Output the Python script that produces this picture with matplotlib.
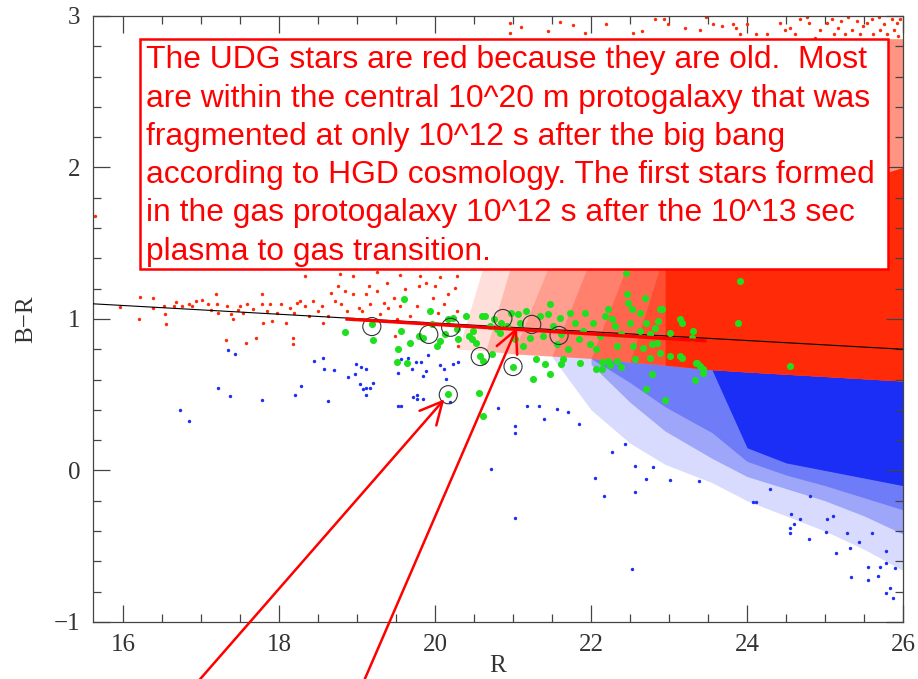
import matplotlib.pyplot as plt
import numpy as np
from matplotlib.patches import Rectangle

# ---- sparse stars (R, B-R) ----
red_R = [15.96, 16.20, 16.22, 16.39, 16.39, 16.52, 16.54, 16.55, 16.65, 16.68, 16.75, 16.84, 16.88, 16.94,
         17.01, 17.09, 17.13, 17.19, 17.20, 17.22, 17.32, 17.33, 17.39, 17.41, 17.48, 17.50, 17.54, 17.58,
         17.59, 17.67, 17.71, 17.78, 17.78, 17.80, 17.84, 17.89, 17.91, 17.97, 18.03, 18.09, 18.14, 18.18,
         18.18, 18.19, 18.23, 18.27, 18.33, 18.39, 18.44, 18.50, 18.55, 18.57, 18.63, 18.67, 18.72, 18.75,
         18.80, 18.85, 18.87, 18.95, 18.95, 19.02, 19.06, 19.12, 19.15, 19.17, 19.25, 19.29, 19.34, 19.38,
         19.40, 19.47, 19.49, 19.51, 19.55, 19.62, 19.68, 19.77, 19.79, 19.85, 19.89, 19.98, 20.00, 20.04,
         20.11, 20.17, 20.26, 20.28, 20.30, 18.33, 18.95, 19.81, 20.28, 18.78, 19.25, 19.55, 20.07, 15.64,
         20.96, 20.96, 21.10, 21.45, 21.60, 21.77, 21.92, 22.54,
         22.19, 22.65, 22.82, 22.93, 22.99, 23.21, 23.40, 23.48, 23.57, 23.68, 23.82, 23.86, 23.91, 24.00,
         24.12, 24.25, 24.42, 24.49, 24.55, 24.62, 24.68, 24.77, 24.79, 24.87, 24.94, 25.02, 25.09, 25.11,
         25.17, 25.21, 25.26, 25.30, 25.34, 25.41, 25.45, 25.49, 25.54, 25.60, 25.62, 25.69, 25.71, 25.75,
         25.79, 25.86, 25.88, 25.92, 25.94, 25.96]
red_BR = [1.078, 0.997, 1.146, 1.140, 1.074, 1.085, 1.030, 0.964, 1.085, 1.111, 1.085, 1.102, 1.085, 1.118,
          1.124, 1.096, 1.058, 1.168, 1.102, 1.041, 0.860, 1.085, 1.030, 0.997, 1.058, 1.085, 1.041, 0.843,
          1.096, 1.063, 0.876, 1.168, 1.102, 0.975, 1.052, 1.102, 0.986, 1.041, 1.096, 0.975, 1.074, 0.876,
          0.832, 1.041, 1.107, 1.118, 1.085, 1.019, 1.118, 1.052, 1.085, 0.975, 1.019, 1.173, 1.118, 1.217,
          1.096, 1.184, 1.052, 1.162, 0.997, 1.074, 1.052, 1.162, 1.217, 1.096, 1.184, 1.030, 1.107, 1.239,
          1.074, 1.140, 0.887, 0.997, 1.085, 1.195, 1.019, 1.085, 1.217, 0.975, 1.239, 1.140, 1.217, 1.041,
          1.096, 1.162, 1.206, 1.052, 0.821, 1.283, 1.283, 1.283, 1.283, 1.300, 1.310, 1.290, 1.280, 1.680,
          2.955, 2.890, 2.930, 2.900, 2.960, 2.940, 2.890, 2.890,
          2.944, 2.900, 2.977, 2.980, 2.944, 2.922, 2.910, 2.990, 2.944, 2.937, 2.944, 2.922, 2.884, 2.944,
          2.878, 2.878, 2.955, 2.910, 2.922, 2.878, 2.977, 2.990, 2.955, 2.856, 2.910, 2.955, 2.980, 2.878,
          2.922, 2.966, 2.878, 2.990, 2.910, 2.966, 2.878, 2.933, 2.955, 2.977, 2.878, 2.990, 2.910, 2.944,
          2.878, 2.977, 2.910, 2.955, 2.867, 2.977]

blue_R = [17.34, 17.44, 17.22, 17.37, 16.73, 16.85, 17.78, 18.20, 18.28, 18.45, 18.56, 18.58, 18.70, 18.63,
          18.88, 18.97, 18.99, 19.05, 19.11, 19.04, 19.08, 19.12, 19.17, 19.12, 19.20, 19.52, 19.53, 19.57,
          19.57, 19.65, 19.70, 19.72, 19.77, 19.77, 19.85, 19.76, 19.82, 19.89, 19.85, 19.91, 20.06, 20.11,
          20.14, 20.19, 20.23, 20.30,
          20.72, 21.03, 21.03, 21.02, 20.81, 21.18, 21.33, 21.40, 21.56, 21.70, 21.84, 22.05, 22.17, 22.53,
          22.56, 22.70, 22.80, 23.01, 23.38, 22.27, 22.44, 22.57, 24.08, 24.12, 24.57, 24.55, 24.55, 24.60,
          24.79, 25.01, 25.14, 25.32, 25.33, 25.43, 25.55, 25.55, 25.68, 25.70, 25.78, 25.78, 25.83, 25.87,
          25.90, 25.78, 25.28, 25.60, 25.02, 25.10, 24.68, 24.30, 24.81]
blue_BR = [0.794, 0.766, 0.541, 0.490, 0.398, 0.328, 0.462, 0.497, 0.557, 0.722, 0.744, 0.671, 0.662, 0.457,
           0.618, 0.634, 0.700, 0.684, 0.667, 0.568, 0.535, 0.546, 0.546, 0.497, 0.579, 0.645, 0.425, 0.425,
           0.733, 0.744, 0.671, 0.486, 0.500, 0.473, 0.469, 0.715, 0.715, 0.655, 0.623, 0.759, 0.693, 0.667,
           0.605, 0.451, 0.700, 0.715,
           0.007, 0.293, 0.249, -0.312, 0.414, 0.425, 0.425, 0.341, 0.403, 0.387, 0.308, -0.053, -0.170, -0.649,
           -0.141, -0.059, 0.022, -0.066, -0.070, 0.123, 0.172, 0.029, -0.209, -0.209, -0.290, -0.378, -0.410, -0.352,
           -0.451, -0.407, -0.543, -0.510, -0.700, -0.473, -0.636, -0.720, -0.697, -0.636, -0.533, -0.610, -0.775, -0.840,
           -0.642, -0.807, -0.411, -0.411, -0.323, -0.300, -0.323, -0.125, -0.170]

green_R = [18.85, 19.21, 19.19, 19.60, 19.56, 19.68, 19.53, 19.51, 19.64, 19.79, 19.85, 19.94, 19.96, 20.02,
           20.06, 20.13, 20.17, 20.23, 20.28, 20.30, 20.40, 20.43, 20.47, 20.49, 20.53, 20.60, 20.58, 20.62,
           20.57, 20.64, 20.70, 20.73, 20.75, 20.79, 20.83, 20.85, 20.92, 20.98, 21.00, 21.03, 21.07, 21.09,
           21.13, 21.17, 21.22, 21.26, 21.30, 21.35, 21.39, 21.45, 21.47, 21.47, 21.51, 21.56, 21.60, 21.62,
           21.64, 21.71, 21.73, 21.79, 21.84, 21.86, 21.90, 21.92, 21.99, 22.03, 22.07, 22.12, 22.14, 22.18,
           22.22, 22.22, 20.16, 20.62,
           22.45, 22.46, 22.48, 22.52, 22.69, 22.63, 22.71, 22.76, 22.82, 22.91, 22.86, 23.14, 23.16, 23.31,
           23.29, 23.01, 22.50, 22.63, 22.54, 22.67, 22.78, 22.84, 22.88, 22.76, 23.01, 23.14, 22.56, 22.33,
           22.39, 22.31, 22.27, 23.91, 23.88, 23.40, 23.35, 23.44, 23.16,
           21.41, 21.62, 22.06, 22.14, 22.24, 22.33, 22.39, 22.71, 22.78, 22.95, 23.33, 23.43, 23.36, 24.55,
           22.89]
green_BR = [0.915, 0.858, 0.964, 1.129, 0.920, 0.843, 0.803, 0.715, 0.711, 0.887, 0.876, 1.052, 0.964, 0.821,
            0.854, 0.898, 0.997, 1.008, 0.931, 0.865, 1.019, 0.887, 0.865, 0.920, 0.843, 1.019, 0.755, 0.722,
            0.513, 1.019, 0.953, 0.766, 0.997, 0.931, 0.909, 0.975, 0.953, 1.041, 0.684, 0.865, 1.030, 0.975,
            0.821, 1.052, 0.876, 0.601, 0.733, 1.019, 0.887, 1.030, 1.096, 0.634, 0.953, 0.832, 1.008, 0.898,
            0.733, 0.799, 1.041, 0.975, 0.865, 0.711, 0.920, 1.041, 0.832, 0.975, 0.799, 0.887, 0.667, 1.019,
            1.063, 0.722, 0.502, 0.359,
            1.305, 1.162, 1.107, 1.063, 1.140, 1.041, 0.975, 0.898, 0.942, 1.063, 0.986, 0.997, 0.975, 0.920,
            0.876, 0.909, 0.975, 0.920, 0.821, 0.810, 0.832, 0.843, 0.777, 0.744, 0.755, 0.755, 0.733, 0.821,
            0.898, 0.953, 0.997, 1.250, 0.975, 0.689, 0.711, 0.645, 0.744,
            0.700, 0.706, 0.667, 0.715, 0.693, 0.722, 0.684, 0.539, 0.634, 0.464, 0.596, 0.667, 0.711, 0.689,
            1.063]

# circled objects
circ_R = [19.19, 19.92, 20.20, 20.87, 21.24, 21.59, 20.58, 21.00, 20.17]
circ_BR = [0.950, 0.898, 0.945, 1.003, 0.964, 0.891, 0.752, 0.686, 0.500]

# ---- dense parts of the cloud: envelopes ----
zone_R = [20.3, 20.65, 21.0, 21.5, 22.0, 22.5, 22.95, 23.55, 24.0, 24.5, 25.0, 25.5, 26.0]
divide_BR = [0.80, 0.79, 0.77, 0.755, 0.74, 0.715, 0.695, 0.665, 0.65, 0.635, 0.62, 0.605, 0.59]
red_top = [1.40, 1.40, 1.40, 1.40, 1.40, 1.40, 1.45, 1.55, 1.65, 1.75, 1.85, 1.92, 2.00]
red_sky = [2.85, 2.85, 2.85, 2.85, 2.85, 2.85, 2.85, 2.85, 2.85, 2.85, 2.85, 2.85, 2.85]
# red speckle builds up in layers starting at these zone_R indices
red_layer_start = [0, 1, 2, 3, 4, 5]
red_layer_alpha = [0.15, 0.2, 0.2, 0.25, 0.3, 0.4]
blue_far = [0.80, 0.79, 0.77, 0.75, 0.40, 0.18, 0.04, -0.08, -0.20, -0.30, -0.40, -0.52, -0.66]
blue_mid = [0.80, 0.79, 0.77, 0.755, 0.70, 0.45, 0.26, 0.08, -0.04, -0.12, -0.20, -0.30, -0.42]
blue_inner = [0.80, 0.79, 0.77, 0.755, 0.74, 0.58, 0.42, 0.25, 0.06, -0.03, -0.10, -0.18, -0.26]
blue_core = [0.80, 0.79, 0.77, 0.755, 0.74, 0.715, 0.695, 0.665, 0.15, 0.05, 0.0, -0.05, -0.10]

# fitted line and the UDG sequence
fit_R = [15.615, 26.0]
fit_BR = [1.10, 0.80]
seq_R = [18.85, 23.48]
seq_BR = [1.00, 0.855]

# arrows: head, tail
arrow_heads = [(20.12, 0.47), (21.05, 0.944)]
arrow_tails = [(16.95, -1.40), (19.08, -1.40)]

note = ["The UDG stars are red because they are old.  Most",
        "are within the central 10^20 m protogalaxy that was",
        "fragmented at only 10^12 s after the big bang",
        "according to HGD cosmology. The first stars formed",
        "in the gas protogalaxy 10^12 s after the 10^13 sec",
        "plasma to gas transition."]

RED = '#ff2a08'
BLUE = '#1a2ef5'
GREEN = '#1fe01f'

fig = plt.figure(figsize=(9.18, 6.79), dpi=100)
ax = fig.add_axes([0.1013, 0.0840, 0.8824, 0.8925])

x = np.array(zone_R)
div = np.array(divide_BR)

# blue side: fringe, speckled bands, solid core
ax.fill_between(x[3:], blue_far[3:], div[3:], color=BLUE, alpha=0.17, lw=0, zorder=1)
ax.fill_between(x[4:], blue_mid[4:], div[4:], color=BLUE, alpha=0.3, lw=0, zorder=1)
ax.fill_between(x[4:], blue_inner[4:], div[4:], color=BLUE, alpha=0.35, lw=0, zorder=1)
ax.fill_between(x[7:], blue_core[7:], div[7:], color=BLUE, lw=0, zorder=1)

# red side: layers start as wedges so the density ramps up to the right
for start, a in zip(red_layer_start, red_layer_alpha):
    top = np.array(red_top, dtype=float)
    top[start] = div[start]
    ax.fill_between(x[start:], div[start:], top[start:], color=RED, alpha=a, lw=0, zorder=1)
ax.fill_between(x[6:], div[6:], red_top[6:], color=RED, lw=0, zorder=1)
ax.fill_between(x[10:], red_top[10:], red_sky[10:], color=RED, alpha=0.5, lw=0, zorder=1)

ax.scatter(red_R, red_BR, s=6, color=RED, lw=0, zorder=2)
ax.scatter(blue_R, blue_BR, s=6, color=BLUE, lw=0, zorder=2)

ax.plot(fit_R, fit_BR, color='black', lw=0.8, zorder=3)
ax.scatter(green_R, green_BR, s=26, color=GREEN, lw=0, zorder=4)
ax.scatter(circ_R, circ_BR, s=170, facecolors='none', edgecolors='#333333', lw=0.8, zorder=5)
ax.plot(seq_R, seq_BR, color='#ff0000', lw=2.4, solid_capstyle='butt', zorder=6)

for head, tail in zip(arrow_heads, arrow_tails):
    ax.annotate('', xy=head, xytext=tail, annotation_clip=False, zorder=7,
                arrowprops=dict(arrowstyle='->, head_length=0.4, head_width=0.2', mutation_scale=40,
                                color='#ff0000', lw=1.8, shrinkA=0, shrinkB=0))

ax.set_xlim(15.615, 26)
ax.set_ylim(-1, 3)
ax.set_xticks([16, 18, 20, 22, 24, 26])
ax.set_xticks(np.arange(16, 26.01, 0.5), minor=True)
ax.set_yticks([-1, 0, 1, 2, 3])
ax.set_yticks(np.arange(-1, 3.01, 0.2), minor=True)
ax.set_xticklabels(['16', '18', '20', '22', '24', '26'])
ax.set_yticklabels(['\u22121', '0', '1', '2', '3'])
ax.tick_params(which='both', direction='in', top=True, right=True, color='#444444', width=0.9,
               labelsize=18, labelcolor='#333333', pad=9)
ax.tick_params(which='major', length=12)
ax.tick_params(which='minor', length=6)
for lab in ax.get_xticklabels() + ax.get_yticklabels():
    lab.set_family('Liberation Serif')
for sp in ax.spines.values():
    sp.set_color('#444444')
    sp.set_linewidth(0.9)
ax.set_xlabel('R', family='Liberation Serif', fontsize=18, color='#333333', labelpad=-1)
ax.set_ylabel('B\u2212R', family='Liberation Serif', fontsize=18, color='#333333', labelpad=12)

# text box
box = Rectangle((139.5 / 918, 1 - 269.5 / 679), 748 / 918, 230 / 679, transform=fig.transFigure,
                facecolor='white', edgecolor='#ff0000', lw=1.8, zorder=8, clip_on=False)
ax.add_patch(box)
for i, line in enumerate(note):
    fig.text(146 / 918, 1 - (68.3 + 38.3 * i) / 679, line, family='Liberation Sans', fontsize=22.9,
             color='#ff0000', va='baseline', ha='left', zorder=9)

fig.savefig('out.png', dpi=100)
